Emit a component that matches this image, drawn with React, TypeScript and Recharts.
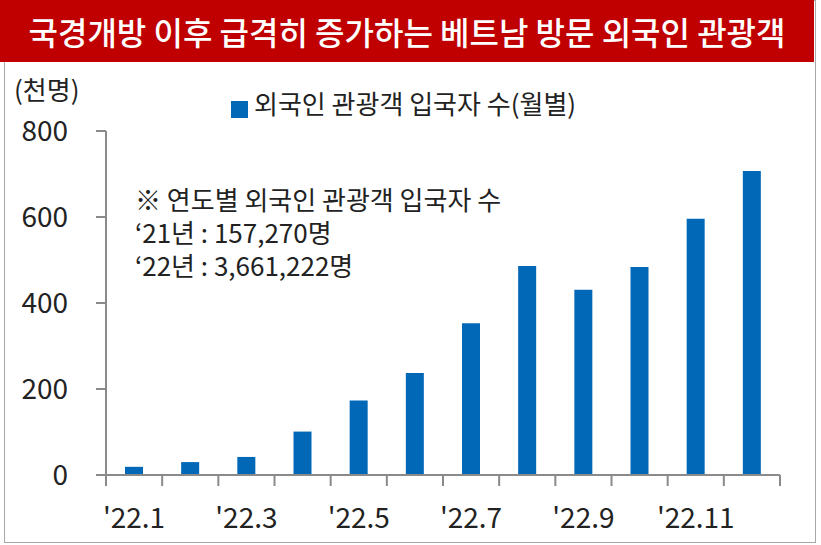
import React from 'react';
import { BarChart, Bar, XAxis, YAxis, Legend } from 'recharts';

// 월별 외국인 관광객 입국자 수 (천명)
const months = ["'22.1", "'22.2", "'22.3", "'22.4", "'22.5", "'22.6", "'22.7", "'22.8", "'22.9", "'22.10", "'22.11", "'22.12"];
const visitors = [19, 30, 42, 101, 173, 237, 353, 486, 431, 484, 596, 707];
const yTicks = [0, 200, 400, 600, 800];

const title = '국경개방 이후 급격히 증가하는 베트남 방문 외국인 관광객';
const seriesName = '외국인 관광객 입국자 수(월별)';
const unitLabel = '(천명)';
const noteLines = ['※ 연도별 외국인 관광객 입국자 수', '‘21년 : 157,270명', '‘22년 : 3,661,222명'];

const FONT = '"Noto Sans CJK KR", "Noto Sans", sans-serif';
const AXIS = '#8a8a8a';
const TEXT = '#222';
const BAR = '#0068b7';

const chartData = months.map((m, i) => ({ month: m, value: visitors[i] }));

// category axis tick: boundary tick marks + label on odd months only
const XTick = (props: any) => {
  const { x, y, payload, index } = props;
  const off = payload && payload.offset ? payload.offset : 28;
  const last = index === months.length - 1;
  return (
    <g>
      <line x1={x - off} y1={y} x2={x - off} y2={y + 11} stroke={AXIS} strokeWidth={2} />
      {last && <line x1={x + off} y1={y} x2={x + off} y2={y + 11} stroke={AXIS} strokeWidth={2} />}
      {index % 2 === 0 && (
        <text x={x} y={y + 53} textAnchor="middle" fontSize={28} fill={TEXT} fontFamily={FONT}>
          {payload.value}
        </text>
      )}
    </g>
  );
};

const App: React.FC = () => {
  return (
    <div style={{ position: 'absolute', left: 0, top: 0, width: 821, height: 545, background: '#fff', fontFamily: FONT }}>
      {/* frame */}
      <div style={{ position: 'absolute', left: 4, top: 0, width: 810, height: 541, border: '1px solid #a8a8a8' }} />
      {/* title bar */}
      <div style={{
        position: 'absolute', left: 0, top: 0, width: 814, height: 62, background: '#c00000',
        color: '#fff', fontSize: 32, fontWeight: 500, lineHeight: '62px', textAlign: 'center', whiteSpace: 'nowrap'
      }}>
        {title}
      </div>
      <div style={{ position: 'absolute', left: 14, top: 74, fontSize: 26, lineHeight: '30px', color: TEXT }}>
        {unitLabel}
      </div>

      <BarChart
        width={821}
        height={545}
        data={chartData}
        margin={{ top: 131, right: 41, bottom: 0, left: 0 }}
        barSize={18}
      >
        <XAxis
          dataKey="month"
          interval={0}
          height={70}
          tickSize={0}
          tickMargin={0}
          tickLine={false}
          axisLine={{ stroke: AXIS, strokeWidth: 2 }}
          tick={<XTick />}
        />
        <YAxis
          width={106}
          domain={[0, 800]}
          ticks={yTicks}
          interval={0}
          tickSize={10}
          tickMargin={28}
          axisLine={{ stroke: AXIS, strokeWidth: 2 }}
          tickLine={{ stroke: AXIS, strokeWidth: 2 }}
          tick={{ fontSize: 28, fill: TEXT, fontFamily: FONT }}
        />
        <Legend
          layout="horizontal"
          verticalAlign="middle"
          align="center"
          iconType="square"
          iconSize={17}
          wrapperStyle={{ top: 84, left: 231, width: 'auto', fontFamily: FONT }}
          formatter={(v: string) => <span style={{ color: TEXT, fontSize: 26, marginLeft: 2 }}>{v}</span>}
        />
        <Bar dataKey="value" name={seriesName} fill={BAR} isAnimationActive={false} />
      </BarChart>

      {noteLines.map((l, i) => (
        <div
          key={l}
          style={{
            position: 'absolute', left: 135, top: 184 + i * 33, height: 30,
            fontSize: 26, lineHeight: '30px', color: TEXT, whiteSpace: 'nowrap'
          }}
        >
          {l}
        </div>
      ))}
    </div>
  );
};

export default App;
